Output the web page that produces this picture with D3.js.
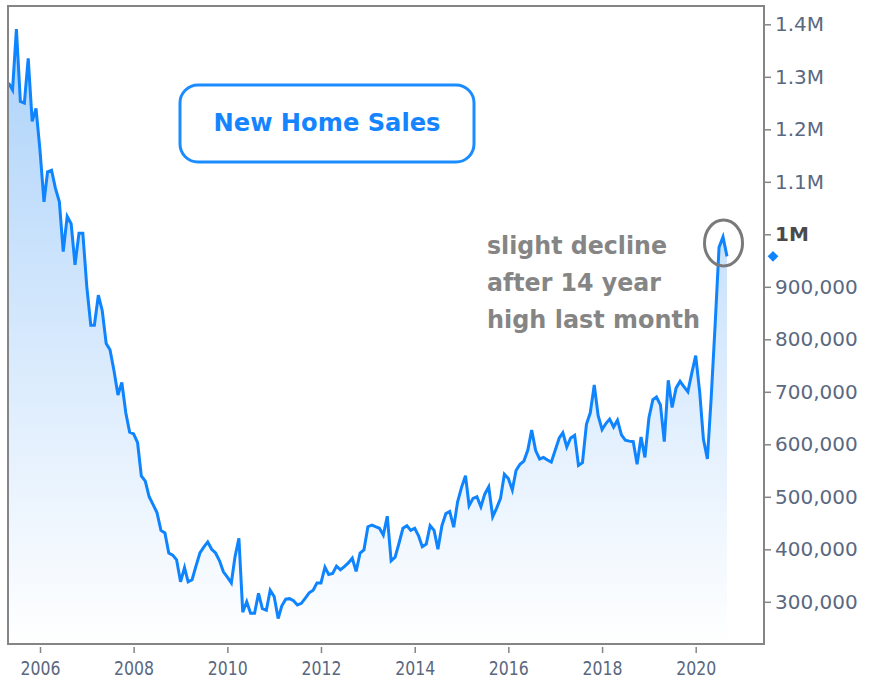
<!DOCTYPE html>
<html><head><meta charset="utf-8">
<script src="https://cdn.jsdelivr.net/npm/d3@7"></script>
<style>body{margin:0;background:#fff;}svg{display:block;}</style>
</head><body>
<svg id="chart" width="869" height="688"></svg>
<script>
// New home sales, seasonally adjusted annual rate, thousands (monthly, May 2005 - Sep 2020)
const sales2005 = [1288, 1275, 1391, 1253, 1250, 1335, 1215, 1240]; // May-Dec
const sales2006 = [1160, 1062, 1119, 1122, 1088, 1062, 967, 1034, 1020, 942, 1002, 1002];
const sales2007 = [900, 827, 827, 884, 855, 792, 780, 740, 694, 718, 660, 623];
const sales2008 = [620, 603, 540, 530, 500, 485, 470, 436, 431, 393, 389, 380];
const sales2009 = [338, 365, 338, 342, 368, 393, 404, 414, 400, 393, 378, 357];
const sales2010 = [347, 336, 385, 421, 280, 300, 278, 278, 316, 287, 284, 322];
const sales2011 = [310, 268, 292, 305, 306, 302, 294, 297, 307, 317, 322, 336];
const sales2012 = [336, 366, 352, 354, 368, 361, 367, 374, 383, 358, 393, 399];
const sales2013 = [443, 446, 443, 440, 427, 463, 378, 385, 412, 440, 445, 436];
const sales2014 = [440, 425, 405, 410, 445, 436, 400, 445, 468, 472, 442, 490];
const sales2015 = [518, 540, 483, 497, 500, 481, 505, 519, 462, 478, 497, 543];
const sales2016 = [535, 513, 550, 562, 568, 589, 627, 588, 572, 575, 570, 566];
const sales2017 = [589, 612, 622, 595, 612, 617, 560, 565, 638, 660, 713, 655];
const sales2018 = [628, 640, 648, 633, 646, 618, 608, 606, 605, 562, 614, 575];
const sales2019 = [650, 685, 690, 675, 605, 722, 670, 707, 720, 710, 700, 735];
const sales2020 = [769, 700, 610, 572, 690, 830, 975, 995, 958]; // Jan-Sep

const yTickValues = [300, 400, 500, 600, 700, 800, 900, 1000, 1100, 1200, 1300, 1400];
const yTickLabels = ["300,000", "400,000", "500,000", "600,000", "700,000", "800,000",
                     "900,000", "1M", "1.1M", "1.2M", "1.3M", "1.4M"];
const xTickYears = [2006, 2008, 2010, 2012, 2014, 2016, 2018, 2020];
const titleText = "New Home Sales";
const noteLines = ["slight decline", "after 14 year", "high last month"];

// build monthly series
const yearly = [sales2005, sales2006, sales2007, sales2008, sales2009, sales2010, sales2011,
  sales2012, sales2013, sales2014, sales2015, sales2016, sales2017, sales2018, sales2019, sales2020];
const data = [];
yearly.forEach((arr, i) => {
  const yr = 2005 + i;
  const m0 = (i === 0) ? 4 : 0;
  arr.forEach((v, j) => data.push({date: new Date(yr, m0 + j, 1), value: v}));
});

const svg = d3.select("#chart");
const plot = {left: 8, top: 6, right: 764, bottom: 644};

const x = d3.scaleTime()
  .domain([new Date(2006, 0, 1), new Date(2020, 0, 1)])
  .range([40, 695.7]);
const y = d3.scaleLinear()
  .domain([219.6, 1434.9])
  .range([plot.bottom, plot.top]);

const defs = svg.append("defs");
const grad = defs.append("linearGradient").attr("id", "areaGrad")
  .attr("gradientUnits", "userSpaceOnUse")
  .attr("x1", 0).attr("x2", 0).attr("y1", y(1400)).attr("y2", plot.bottom);
grad.append("stop").attr("offset", 0).attr("stop-color", "#acd2fa");
grad.append("stop").attr("offset", 1).attr("stop-color", "#ffffff");
defs.append("clipPath").attr("id", "clip").append("rect")
  .attr("x", plot.left).attr("y", plot.top)
  .attr("width", plot.right - plot.left).attr("height", plot.bottom - plot.top);

const g = svg.append("g").attr("clip-path", "url(#clip)");
const area = d3.area().x(d => x(d.date)).y0(plot.bottom).y1(d => y(d.value));
const line = d3.line().x(d => x(d.date)).y(d => y(d.value));
g.append("path").datum(data).attr("d", area).attr("fill", "url(#areaGrad)");
g.append("path").datum(data).attr("d", line).attr("fill", "none")
  .attr("stroke", "#0f84ff").attr("stroke-width", 3).attr("stroke-linejoin", "miter");

// frame
svg.append("rect").attr("x", plot.left).attr("y", plot.top)
  .attr("width", plot.right - plot.left).attr("height", plot.bottom - plot.top)
  .attr("fill", "none").attr("stroke", "#858585").attr("stroke-width", 2);

// y axis (right)
const yAxis = d3.axisRight(y).tickValues(yTickValues).tickSize(7).tickPadding(4)
  .tickFormat((d, i) => yTickLabels[i]);
const ya = svg.append("g").attr("transform", `translate(${plot.right},0)`).call(yAxis);
ya.select(".domain").remove();
ya.selectAll(".tick line").attr("stroke", "#858585").attr("stroke-width", 1.5);
ya.selectAll(".tick text")
  .attr("font-family", "'DejaVu Sans', Verdana, sans-serif")
  .attr("font-size", 20)
  .attr("fill", d => d === 1000 ? "#4a4a4a" : "#5a6880")
  .attr("font-weight", d => d === 1000 ? "bold" : "normal");

// x axis
const xAxis = d3.axisBottom(x).tickValues(xTickYears.map(yr => new Date(yr, 0, 1)))
  .tickSize(6).tickPadding(9).tickFormat(d3.timeFormat("%Y"));
const xa = svg.append("g").attr("transform", `translate(0,${plot.bottom + 3})`).call(xAxis);
xa.select(".domain").remove();
xa.selectAll(".tick line").attr("stroke", "#858585").attr("stroke-width", 1.5);
xa.selectAll(".tick text")
  .attr("font-family", "'DejaVu Sans', Verdana, sans-serif")
  .attr("font-size", 19)
  .attr("fill", "#5a6880")
  .attr("textLength", 40).attr("lengthAdjust", "spacingAndGlyphs");

// last value marker on the axis
const last = data[data.length - 1];
svg.append("path")
  .attr("d", d3.symbol().type(d3.symbolSquare).size(58)())
  .attr("transform", `translate(${plot.right + 9},${y(last.value)}) rotate(45)`)
  .attr("fill", "#0f84ff");

// title box
svg.append("rect").attr("x", 180).attr("y", 85).attr("width", 294).attr("height", 77)
  .attr("rx", 18).attr("fill", "#fff").attr("stroke", "#1a8cff").attr("stroke-width", 3);
svg.append("text").attr("x", 327).attr("y", 131).attr("text-anchor", "middle")
  .attr("font-family", "'DejaVu Sans', Verdana, sans-serif").attr("font-weight", "bold")
  .attr("font-size", 25).attr("fill", "#1585ff")
  .attr("textLength", 227).attr("lengthAdjust", "spacingAndGlyphs")
  .text(titleText);

// annotation
const noteWidths = [180, 174, 213];
noteLines.forEach((t, i) => {
  svg.append("text").attr("x", 487).attr("y", 254 + i * 37)
    .attr("font-family", "'DejaVu Sans', Verdana, sans-serif").attr("font-weight", "bold")
    .attr("font-size", 25).attr("fill", "#858585")
    .attr("textLength", noteWidths[i]).attr("lengthAdjust", "spacingAndGlyphs")
    .text(t);
});
const peak = data[data.length - 2];
svg.append("ellipse").attr("cx", x(peak.date) + 0.5).attr("cy", y(peak.value) + 6)
  .attr("rx", 19).attr("ry", 23).attr("fill", "none")
  .attr("stroke", "#7a7a7a").attr("stroke-width", 3);
</script>
</body></html>
